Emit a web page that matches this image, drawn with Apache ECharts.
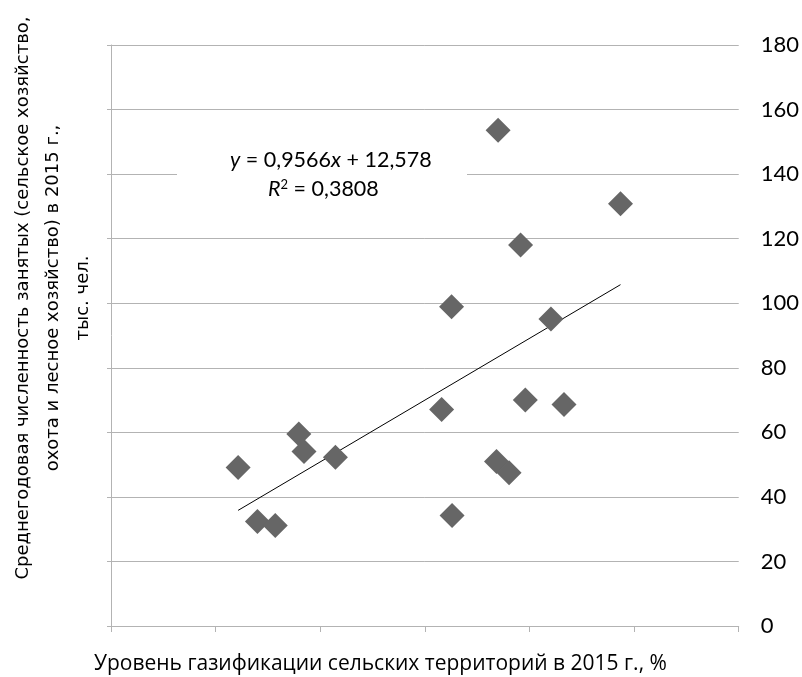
<!DOCTYPE html>
<html>
<head>
<meta charset="utf-8">
<script src="https://cdn.jsdelivr.net/npm/echarts@6/dist/echarts.min.js"></script>
<style>
html,body{margin:0;padding:0;background:#fff;}
#chart{width:802px;height:677px;}
</style>
</head>
<body>
<div id="chart"></div>
<script>
// Data
const gasLevel   = [24.3, 28.0, 31.4, 35.9, 36.9, 42.9, 63.2, 65.1, 65.2, 74.0, 73.7, 76.1, 78.3, 79.2, 84.1, 86.6, 97.4];
const employment = [49.1, 32.4, 31.1, 59.5, 54.1, 52.3, 67.1, 98.9, 34.2, 153.6, 51.0, 47.5, 118.0, 70.0, 95.1, 68.6, 130.8];
const trendSlope = 0.9566;
const trendIntercept = 12.578;
const equationLine = '{i|y} = 0,9566{i|x} + 12,578';
const r2Line = '{i|R}{sup|2} = 0,3808';
const xTitle = 'Уровень газификации сельских территорий в 2015 г., %';
const yTitle = [
  'Среднегодовая численность занятых (сельское хозяйство,',
  'охота и лесное хозяйство) в 2015 г.,',
  'тыс. чел.'
];

const points = gasLevel.map((x, i) => [x, employment[i]]);
const xMinData = Math.min(...gasLevel);
const xMaxData = Math.max(...gasLevel);
const trend = [
  [xMinData, trendSlope * xMinData + trendIntercept],
  [xMaxData, trendSlope * xMaxData + trendIntercept]
];

const axisColor = '#b3b3b3';
const numFont = 'Lato, "Open Sans", sans-serif';

const chart = echarts.init(document.getElementById('chart'), null, {renderer: 'canvas'});
chart.setOption({
  animation: false,
  backgroundColor: '#fff',
  grid: {left: 111, right: 62, top: 45, bottom: 51},
  xAxis: {
    type: 'value', min: 0, max: 120, interval: 20,
    axisLine: {show: true, lineStyle: {color: axisColor, width: 1}},
    axisTick: {show: true, length: 6, lineStyle: {color: axisColor}},
    axisLabel: {show: false},
    splitLine: {show: false}
  },
  yAxis: [
    {
      type: 'value', position: 'right', min: 0, max: 180, interval: 20,
      axisLine: {show: false},
      axisTick: {show: false},
      axisLabel: {show: true, margin: 22, color: '#000', fontFamily: numFont, fontSize: 22},
      splitLine: {show: true, lineStyle: {color: axisColor, width: 1}}
    },
    {
      type: 'value', position: 'left', min: 0, max: 180, interval: 20,
      axisLine: {show: true, lineStyle: {color: axisColor, width: 1}},
      axisTick: {show: true, length: 4, lineStyle: {color: axisColor}},
      axisLabel: {show: false},
      splitLine: {show: false}
    }
  ],
  series: [
    {
      type: 'line', data: trend, yAxisIndex: 0,
      showSymbol: false, symbol: 'none', silent: true,
      lineStyle: {color: '#000', width: 1}, z: 3
    },
    {
      type: 'scatter', data: points, yAxisIndex: 0,
      symbol: 'diamond', symbolSize: 25,
      itemStyle: {color: '#666666', opacity: 1}, z: 4
    }
  ],
  graphic: [
    {
      type: 'rect', z: 10,
      shape: {x: 177, y: 145, width: 290, height: 58},
      style: {fill: '#fff'}
    },
    {
      type: 'text', z: 11, x: 230, y: 160,
      style: {
        text: equationLine, fill: '#000',
        fontFamily: numFont, fontSize: 21.5,
        textAlign: 'left', textVerticalAlign: 'middle',
        rich: {i: {fontStyle: 'italic', fontFamily: numFont, fontSize: 21.5}}
      }
    },
    {
      type: 'text', z: 11, x: 268, y: 189,
      style: {
        text: r2Line, fill: '#000',
        fontFamily: numFont, fontSize: 21.5,
        textAlign: 'left', textVerticalAlign: 'middle',
        rich: {
          i: {fontStyle: 'italic', fontFamily: numFont, fontSize: 21.5},
          sup: {fontFamily: numFont, fontSize: 13, verticalAlign: 'top', padding: [0, 0, 8, 0]}
        }
      }
    },
    {
      type: 'text', z: 11, x: 94, y: 664,
      style: {
        text: xTitle, fill: '#000',
        fontFamily: '"Open Sans", sans-serif', fontSize: 21,
        textAlign: 'left', textVerticalAlign: 'middle'
      }
    },
    {
      type: 'text', z: 11, x: 53, y: 298, rotation: Math.PI / 2,
      style: {
        text: yTitle.join('\n'), fill: '#000',
        fontFamily: '"DejaVu Sans", sans-serif', fontSize: 18, lineHeight: 30,
        textAlign: 'center', textVerticalAlign: 'middle'
      }
    }
  ]
});
</script>
</body>
</html>
